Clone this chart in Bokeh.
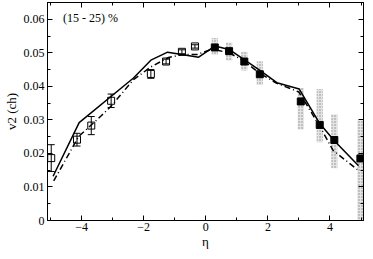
from bokeh.plotting import figure
from bokeh.models import (ColumnDataSource, Whisker, TeeHead, FixedTicker, LinearAxis, Label)
from bokeh.embed import file_html
from bokeh.resources import INLINE

# ---- data ----
eta_open = [-4.98, -4.15, -3.69, -3.05, -1.77, -1.28, -0.77, -0.35]
v2_open = [0.0186, 0.0241, 0.0283, 0.0357, 0.0437, 0.0474, 0.0503, 0.0519]
err_open = [0.0040, 0.0019, 0.0027, 0.0020, 0.0013, 0.0007, 0.0006, 0.0005]

eta_fill = [0.29, 0.75, 1.24, 1.74, 3.06, 3.67, 4.14, 4.98]
v2_fill = [0.0516, 0.0505, 0.0474, 0.0436, 0.0355, 0.0285, 0.0240, 0.0185]
sys_lo = [0.0494, 0.0477, 0.0447, 0.0404, 0.0271, 0.0233, 0.0156, 0.0000]
sys_hi = [0.0544, 0.0531, 0.0503, 0.0475, 0.0395, 0.0392, 0.0317, 0.0299]

eta_solid = [-4.92, -4.08, -2.33, -1.77, -1.23, -0.23, 0.29, 0.75, 1.72, 2.29, 3.01, 3.67, 4.14, 4.92]
v2_solid = [0.0132, 0.0292, 0.0425, 0.0478, 0.0502, 0.0487, 0.0520, 0.0510, 0.0449, 0.0411, 0.0392, 0.0289, 0.0238, 0.0163]

eta_dd = [-4.90, -4.10, -3.36, -3.05, -2.33, -1.77, -1.20, -0.74, -0.28, 0.20, 0.75, 1.21, 1.73, 2.27, 3.00, 3.67, 4.10, 4.88]
v2_dd = [0.0118, 0.0250, 0.0313, 0.0341, 0.0420, 0.0458, 0.0486, 0.0495, 0.0495, 0.0511, 0.0500, 0.0477, 0.0439, 0.0410, 0.0383, 0.0281, 0.0209, 0.0152]

x_ticks = [-4, -2, 0, 2, 4]
x_minor = [-5, -3, -1, 1, 3, 5]
y_ticks = [0, 0.01, 0.02, 0.03, 0.04, 0.05, 0.06]
y_minor = [0.005, 0.015, 0.025, 0.035, 0.045, 0.055, 0.065]

FONT = "Liberation Serif"

p = figure(width=365, height=251, output_backend="svg", toolbar_location=None,
           x_range=(-5.1, 5.08), y_range=(0, 0.065),
           min_border_left=2, min_border_right=2, min_border_top=2, min_border_bottom=0)
p.grid.visible = False
p.outline_line_color = "black"
p.outline_line_width = 1
p.background_fill_color = "white"
p.border_fill_color = "white"

def style_axis(ax, ticks, minor):
    ax.ticker = FixedTicker(ticks=ticks, minor_ticks=minor)
    ax.major_tick_in = 5
    ax.major_tick_out = 0
    ax.minor_tick_in = 3
    ax.minor_tick_out = 0
    ax.axis_line_color = "black"
    ax.major_tick_line_color = "black"
    ax.minor_tick_line_color = "black"
    ax.major_label_text_font = FONT
    ax.major_label_text_font_size = "12px"
    ax.major_label_text_color = "black"
    ax.axis_label_text_font = FONT
    ax.axis_label_text_font_style = "normal"
    ax.axis_label_text_font_size = "13px"
    ax.axis_label_text_color = "black"

style_axis(p.xaxis[0], x_ticks, x_minor)
style_axis(p.yaxis[0], y_ticks, y_minor)
p.xaxis.axis_label = "η"
p.yaxis.axis_label = "v2 (ch)"
p.xaxis.major_label_standoff = 2
p.xaxis.axis_label_standoff = 0
p.yaxis.major_label_standoff = 3
p.yaxis.axis_label_standoff = 2
p.yaxis.major_label_overrides = {0: "0"}

top = LinearAxis()
style_axis(top, x_ticks, x_minor)
top.major_label_overrides = {t: "" for t in x_ticks}
top.major_label_standoff = 0
p.add_layout(top, "above")
right = LinearAxis()
style_axis(right, y_ticks, y_minor)
right.major_label_overrides = {t: "" for t in y_ticks}
right.major_label_standoff = 0
p.add_layout(right, "right")

# systematic boxes
src_sys = ColumnDataSource(dict(x=eta_fill, lo=sys_lo, hi=sys_hi))
p.vbar(x="x", bottom="lo", top="hi", width=0.2, source=src_sys,
       fill_color="#e4e4e4", line_color=None,
       hatch_pattern="dot", hatch_color="#8a8a8a", hatch_scale=3, hatch_weight=1)

# model lines
p.line(eta_solid, v2_solid, line_color="black", line_width=1.5)
p.line(eta_dd, v2_dd, line_color="black", line_width=1.5, line_dash="6 3 1 3")

# open squares with error bars
lower = [v - e for v, e in zip(v2_open, err_open)]
upper = [v + e for v, e in zip(v2_open, err_open)]
src_open = ColumnDataSource(dict(x=eta_open, y=v2_open, lo=lower, hi=upper))
w = Whisker(base="x", lower="lo", upper="hi", source=src_open, line_color="black", line_width=1,
            upper_head=TeeHead(size=7, line_color="black", line_width=1),
            lower_head=TeeHead(size=7, line_color="black", line_width=1))
p.add_layout(w)
p.scatter("x", "y", source=src_open, marker="square", size=7, fill_alpha=0,
          line_color="black", line_width=1)

# filled squares
p.scatter(eta_fill, v2_fill, marker="square", size=7, fill_color="black", line_color="black")

p.add_layout(Label(x=-4.6, y=0.0605, text="(15 - 25) %", text_font=FONT,
                   text_font_size="12px", text_color="black", text_baseline="middle"))

open("out.html", "w").write(file_html(p, INLINE))
